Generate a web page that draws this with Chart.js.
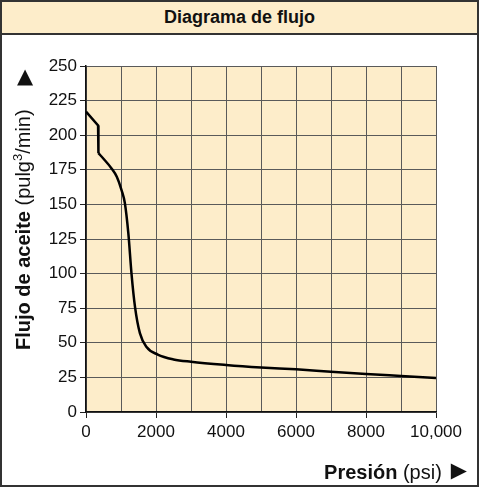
<!DOCTYPE html>
<html>
<head>
<meta charset="utf-8">
<script src="https://cdn.jsdelivr.net/npm/chart.js@4"></script>
<style>
  body { margin: 0; background: #fff; font-family: "Liberation Sans", Arial, sans-serif; }
  #wrap { position: relative; width: 479px; height: 487px; }
  #frame { position: absolute; left: 0; top: 0; width: 479px; height: 487px; box-sizing: border-box;
           border: 2px solid #333; pointer-events: none; z-index: 2; }
  #head { position: absolute; left: 0; top: 0; width: 479px; height: 35px; box-sizing: border-box;
          border: 2px solid #333; background: #fdedca; z-index: 3; text-align: center;
          font-weight: bold; font-size: 18px; line-height: 31px; color: #111; }
  #box { position: absolute; left: 0; top: 0; width: 479px; height: 487px; }
</style>
</head>
<body>
<div id="wrap">
  <div id="box"><canvas id="flowChart"></canvas></div>
  <div id="head">Diagrama de flujo</div>
  <div id="frame"></div>
</div>
<script>
// pressure (psi) vs oil flow (in3/min)
const pressure = [0, 345, 355, 500, 730, 880, 1020, 1110, 1210, 1300, 1400, 1540, 1730, 2050, 2500, 3000, 4000, 5000, 6000, 7000, 8000, 9000, 10000];
const flow = [217, 207, 187, 183, 176, 170, 160, 151, 129, 100, 76, 57, 47, 41.5, 38, 36.3, 34, 32.2, 30.8, 29.1, 27.5, 26, 24.5];

const yTicks = [0, 25, 50, 75, 100, 125, 150, 175, 200, 225, 250];
const xLabels = { 0: "0", 2000: "2000", 4000: "4000", 6000: "6000", 8000: "8000", 10000: "10,000" };

const beige = "#fdedca";
const fontFam = '"Liberation Sans", Arial, sans-serif';

const points = pressure.map((p, i) => ({ x: p, y: flow[i] }));
// the relief-valve step is drawn straight, the rest smooth
const stepPart = points.slice(0, 3);
const curvePart = points.slice(2);

const plotBg = {
  id: "plotBg",
  beforeDraw(chart) {
    const a = chart.chartArea, c = chart.ctx;
    c.save();
    c.fillStyle = beige;
    c.fillRect(a.left, a.top, a.right - a.left, a.bottom - a.top);
    c.restore();
  }
};

// axis titles with mixed bold / normal text
const axisTitles = {
  id: "axisTitles",
  afterDraw(chart) {
    const c = chart.ctx;
    const bold = "bold 20px " + fontFam;
    const norm = "20px " + fontFam;
    const small = "13px " + fontFam;
    const arrow = '21px "DejaVu Sans"';
    c.save();
    c.fillStyle = "#111";
    c.textBaseline = "alphabetic";

    // y title, rotated, reading upwards
    c.save();
    c.translate(30, 350);
    c.rotate(-Math.PI / 2);
    let x = 0;
    c.font = bold; c.fillText("Flujo de aceite", x, 0); x += c.measureText("Flujo de aceite ").width;
    c.font = norm; c.fillText("(pulg", x, 0); x += c.measureText("(pulg").width;
    c.font = small; c.fillText("3", x, -8); x += c.measureText("3").width;
    c.font = norm; c.fillText("/min)", x, 0);
    c.restore();
    c.font = arrow;
    c.textAlign = "center";
    c.textBaseline = "middle";
    c.fillText("\u25B2", 25, 78);

    // x title, right side
    c.textAlign = "left";
    c.textBaseline = "alphabetic";
    c.font = arrow;
    const arrowW = c.measureText("\u25B6").width;
    c.font = norm;
    const psiW = c.measureText(" (psi)").width;
    c.font = bold;
    const preW = c.measureText("Presi\u00F3n").width;
    let sx = 467 - arrowW - 9 - psiW - preW;
    c.fillText("Presi\u00F3n", sx, 479); sx += preW;
    c.font = norm; c.fillText(" (psi)", sx, 479); sx += psiW + 9;
    c.font = arrow;
    c.textBaseline = "middle";
    c.fillText("\u25B6", sx, 472);
    c.restore();
  }
};

new Chart(document.getElementById("flowChart"), {
  type: "line",
  data: {
    datasets: [{
      data: stepPart,
      borderColor: "#000",
      borderWidth: 2.5,
      pointRadius: 0,
      fill: false,
      tension: 0
    }, {
      data: curvePart,
      borderColor: "#000",
      borderWidth: 2.5,
      pointRadius: 0,
      fill: false,
      cubicInterpolationMode: "monotone"
    }]
  },
  options: {
    responsive: true,
    maintainAspectRatio: false,
    animation: false,
    layout: { padding: { left: 0, right: 43, top: 66, bottom: 45 } },
    plugins: { legend: { display: false }, tooltip: { enabled: false }, title: { display: false } },
    scales: {
      x: {
        type: "linear",
        min: 0,
        max: 10000,
        afterFit(scale) { scale.height = 30; },
        afterBuildTicks(scale) {
          const t = [];
          for (let v = 0; v <= 10000; v += 1000) t.push({ value: v });
          scale.ticks = t;
        },
        ticks: {
          autoSkip: false,
          maxRotation: 0,
          padding: 4,
          color: "#111",
          font: { family: fontFam, size: 17 },
          callback: (v) => xLabels[v] !== undefined ? xLabels[v] : ""
        },
        grid: {
          color: "#5a5a5a",
          lineWidth: 1,
          tickLength: 6,
          tickColor: (ctx) => ctx.tick && ctx.tick.value % 2000 === 0 ? "#222" : "rgba(0,0,0,0)"
        },
        border: { color: "#111", width: 1.5 }
      },
      y: {
        min: 0,
        max: 250,
        afterFit(scale) { scale.width = 86; },
        afterBuildTicks(scale) { scale.ticks = yTicks.map(v => ({ value: v })); },
        ticks: {
          padding: 3,
          color: "#111",
          font: { family: fontFam, size: 17 }
        },
        grid: { color: "#5a5a5a", lineWidth: 1, tickLength: 6, tickColor: "#222" },
        border: { color: "#111", width: 1.5 }
      }
    }
  },
  plugins: [plotBg, axisTitles]
});
</script>
</body>
</html>
